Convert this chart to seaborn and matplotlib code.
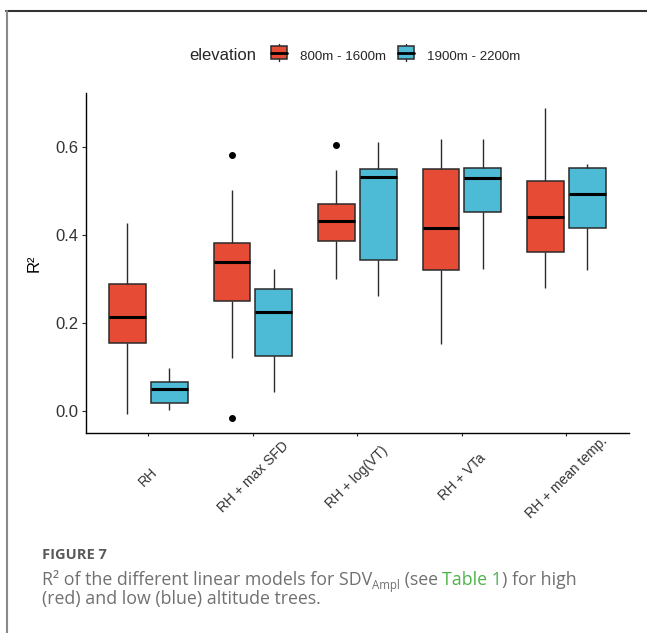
"""
plot.py - R2 of the linear models for SDV amplitude, boxplots by elevation class.
"""

import pandas as pd
import matplotlib
matplotlib.use("Agg")
import matplotlib.pyplot as plt
import seaborn as sns
from matplotlib.legend_handler import HandlerBase
from matplotlib.lines import Line2D
from matplotlib.patches import Patch, Rectangle

# ==========================================
# DATA
# ==========================================
models = ["RH", "RH + max SFD", "RH + log(VT)", "RH + VTa", "RH + mean temp."]
elevations = ["800m - 1600m", "1900m - 2200m"]

# nine R2 values per model, 800m - 1600m trees
r2_800_1600 = [
    [-0.008, 0.090, 0.153, 0.190, 0.212, 0.250, 0.288, 0.350, 0.427],
    [-0.016, 0.120, 0.250, 0.300, 0.339, 0.360, 0.380, 0.502, 0.582],
    [0.299, 0.350, 0.386, 0.410, 0.432, 0.450, 0.469, 0.547, 0.603],
    [0.151, 0.250, 0.319, 0.370, 0.416, 0.480, 0.549, 0.590, 0.617],
    [0.279, 0.330, 0.361, 0.400, 0.440, 0.480, 0.522, 0.600, 0.688],
]
# nine R2 values per model, 1900m - 2200m trees
r2_1900_2200 = [
    [0.002, 0.010, 0.018, 0.035, 0.050, 0.058, 0.066, 0.080, 0.096],
    [0.043, 0.090, 0.125, 0.180, 0.224, 0.250, 0.276, 0.300, 0.323],
    [0.261, 0.300, 0.343, 0.450, 0.530, 0.540, 0.549, 0.580, 0.611],
    [0.323, 0.400, 0.452, 0.490, 0.528, 0.540, 0.551, 0.580, 0.618],
    [0.319, 0.370, 0.416, 0.450, 0.492, 0.520, 0.552, 0.556, 0.561],
]
y_ticks = [0.0, 0.2, 0.4, 0.6]
y_tick_labels = ["0.0", "0.2", "0.4", "0.6"]

RED = "#E64B35"
BLUE = "#4DBBD5"
EDGE = "#2b2b2b"

W, H = 647, 633


def fx(px):
    return px / W


def fy(py):
    return 1 - py / H


class BoxKey(HandlerBase):
    """ggplot-like legend key: small box with median line and whisker stubs"""

    def create_artists(self, legend, orig, xd, yd, width, height, fontsize, trans):
        cx = xd + width / 2
        whisk = Line2D([cx, cx], [yd - 0.18 * height, yd + 1.18 * height],
                       color=EDGE, lw=1.0, transform=trans)
        box = Rectangle((xd, yd), width, height,
                        facecolor=orig.get_facecolor(), edgecolor=EDGE, lw=1.1,
                        transform=trans)
        med = Line2D([xd, xd + width], [yd + height / 2] * 2,
                     color="black", lw=2.0, transform=trans)
        return [whisk, box, med]


def main():
    rows = []
    for elev, groups in zip(elevations, [r2_800_1600, r2_1900_2200]):
        for model, vals in zip(models, groups):
            for v in vals:
                rows.append({"model": model, "elevation": elev, "r2": v})
    df = pd.DataFrame(rows)

    sns.set_style("ticks")
    plt.rcParams["font.family"] = ["Liberation Sans", "DejaVu Sans"]

    fig = plt.figure(figsize=(W / 100, H / 100), dpi=100)
    ax = fig.add_axes([fx(85.7), fy(433.3), fx(629) - fx(85.7), fy(92.7) - fy(433.3)])

    sns.boxplot(
        data=df, x="model", y="r2", hue="elevation",
        order=models, hue_order=elevations, palette=[RED, BLUE],
        saturation=1, width=0.8, gap=0.12, linecolor=EDGE, linewidth=1.1,
        fliersize=4, legend=False, ax=ax, showcaps=False,
        medianprops=dict(color="black", linewidth=2.2),
        whiskerprops=dict(color=EDGE, linewidth=1.0),
        flierprops=dict(marker="o", markerfacecolor="black", markeredgecolor="black"),
    )

    ax.set_xlim(-0.6, 4.6)
    ax.set_ylim(-0.0514, 0.7227)
    ax.set_yticks(y_ticks)
    ax.set_yticklabels(y_tick_labels)
    ax.set_xlabel("")
    ax.set_ylabel("R²", fontsize=12, color="black", labelpad=10)
    ax.tick_params(axis="y", labelsize=12, labelcolor="#333333", length=3, width=0.8, pad=2)
    ax.tick_params(axis="x", labelsize=10, labelcolor="#333333", length=2.5, width=0.8, pad=29)
    for lab in ax.get_xticklabels():
        lab.set_rotation(45)
        lab.set_ha("center")
        lab.set_va("center")
    for side in ["left", "bottom"]:
        ax.spines[side].set_linewidth(1.0)
        ax.spines[side].set_color("black")
    sns.despine(ax=ax)

    # legend on top, title to the left of the keys
    fig.text(fx(189), fy(56), "elevation", fontsize=12, va="center", ha="left")
    handles = [Patch(facecolor=RED), Patch(facecolor=BLUE)]
    fig.legend(handles, elevations, handler_map={Patch: BoxKey()},
               loc="center left", bbox_to_anchor=(fx(271), fy(56.5)), ncol=2,
               frameon=False, fontsize=9.6, borderpad=0, borderaxespad=0,
               handlelength=1.2, handleheight=1.05, handletextpad=1.0,
               columnspacing=0.85)

    # page frame around the figure
    fig.add_artist(Line2D([fx(6), 1], [fy(11), fy(11)], color="#333333", lw=1.5))
    fig.add_artist(Line2D([fx(7), fx(7)], [fy(11), 0], color="#8a8a8a", lw=1.5))

    # caption
    cap = dict(family=["Open Sans", "DejaVu Sans"], color="#707070")
    fs = 12.8
    fig.text(fx(41.5), fy(559), "FIGURE 7", fontsize=10.5, fontweight="bold",
             color="#5a5a5a", family=["Open Sans", "DejaVu Sans"], va="baseline")
    t1 = fig.text(fx(41.5), fy(585), "R² of the different linear models for SDV",
                  fontsize=fs, va="baseline", **cap)
    t2 = ax.annotate("Ampl", xy=(1, 0), xycoords=t1, xytext=(0, -2.5),
                     textcoords="offset points", fontsize=8.3, va="bottom", ha="left", **cap)
    t3 = ax.annotate(" (see ", xy=(1, 0), xycoords=t2, xytext=(0, 2.5),
                     textcoords="offset points", fontsize=fs, va="bottom", ha="left", **cap)
    t4 = ax.annotate("Table 1", xy=(1, 0), xycoords=t3, fontsize=fs,
                     va="bottom", ha="left", family=["Open Sans", "DejaVu Sans"],
                     color="#4fb34a")
    ax.annotate(") for high", xy=(1, 0), xycoords=t4, fontsize=fs,
                va="bottom", ha="left", **cap)
    fig.text(fx(41.5), fy(604), "(red) and low (blue) altitude trees.",
             fontsize=fs, va="baseline", **cap)

    fig.savefig("out.png", dpi=100)


if __name__ == "__main__":
    main()
